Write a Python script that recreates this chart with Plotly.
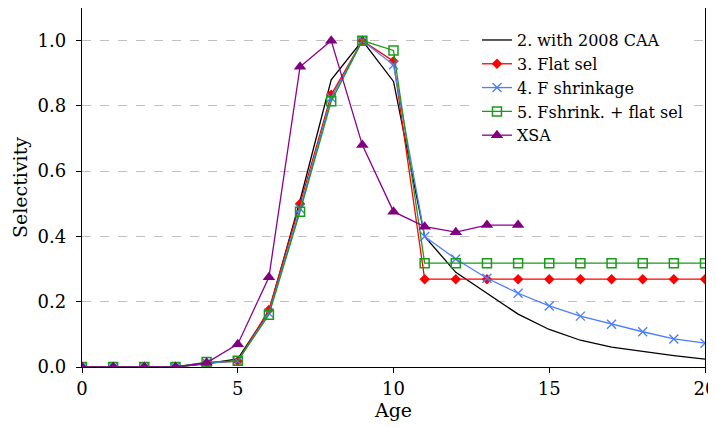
import plotly.graph_objects as go

ages = list(range(0, 21))
ages_xsa = list(range(0, 15))

s2_caa = [0, 0, 0, 0, 0.01, 0.025, 0.17, 0.51, 0.88, 1.0, 0.875, 0.40,
          0.29, 0.225, 0.162, 0.115, 0.082, 0.061, 0.047, 0.035, 0.024]
s3_flat = [0, 0, 0, 0, 0.012, 0.018, 0.175, 0.50, 0.834, 1.0, 0.937, 0.269,
           0.269, 0.269, 0.269, 0.269, 0.269, 0.269, 0.269, 0.269, 0.269]
s4_fshr = [0, 0, 0, 0, 0.012, 0.018, 0.165, 0.485, 0.825, 1.0, 0.926, 0.40,
           0.331, 0.272, 0.226, 0.187, 0.156, 0.131, 0.108, 0.086, 0.073]
s5_fshr_flat = [0, 0, 0, 0, 0.015, 0.019, 0.16, 0.476, 0.814, 1.0, 0.97, 0.318,
                0.318, 0.318, 0.318, 0.318, 0.318, 0.318, 0.318, 0.318, 0.318]
xsa = [0, 0, 0, 0, 0.013, 0.07, 0.275, 0.92, 1.0, 0.68, 0.476, 0.43,
       0.413, 0.435, 0.435]

names = ["2. with 2008 CAA", "3. Flat sel", "4. F shrinkage",
         "5. Fshrink. + flat sel", "XSA"]
x_ticks = [0, 5, 10, 15, 20]
y_ticks = [0.0, 0.2, 0.4, 0.6, 0.8, 1.0]

FONT = "DejaVu Serif"

fig = go.Figure()
fig.add_trace(go.Scatter(x=ages, y=s2_caa, name=names[0], mode="lines",
                         line=dict(color="black", width=1.3)))
fig.add_trace(go.Scatter(x=ages, y=s3_flat, name=names[1], mode="lines+markers",
                         line=dict(color="#ff0000", width=1.3),
                         marker=dict(symbol="diamond", size=8, color="#ff0000")))
fig.add_trace(go.Scatter(x=ages, y=s4_fshr, name=names[2], mode="lines+markers",
                         line=dict(color="#4a7dff", width=1.3),
                         marker=dict(symbol="x-thin", size=9,
                                     line=dict(color="#4a7dff", width=1.3))))
fig.add_trace(go.Scatter(x=ages, y=s5_fshr_flat, name=names[3], mode="lines+markers",
                         line=dict(color="#1a9a1a", width=1.3),
                         marker=dict(symbol="square-open", size=9,
                                     line=dict(color="#1a9a1a", width=1.5))))
fig.add_trace(go.Scatter(x=ages_xsa, y=xsa, name=names[4], mode="lines+markers",
                         line=dict(color="#8b008b", width=1.3),
                         marker=dict(symbol="triangle-up", size=11, color="#800080")))

fig.update_layout(
    width=708, height=420,
    margin=dict(l=74, r=11, t=0, b=61, autoexpand=False),
    paper_bgcolor="white", plot_bgcolor="white",
    font=dict(family=FONT, size=18, color="black"),
    showlegend=True,
    legend=dict(x=0.634, y=0.958, xanchor="left", yanchor="top",
                bgcolor="white", borderwidth=0,
                font=dict(family=FONT, size=16, color="black"),
                tracegroupgap=0, itemwidth=30),
    xaxis=dict(range=[0, 20], tickvals=x_ticks, ticks="outside", ticklen=5,
               tickcolor="black", showline=True, linecolor="black", linewidth=1.3,
               mirror=True, showgrid=False, zeroline=False, automargin=False,
               ticklabeloverflow="allow",
               title=dict(text="Age", font=dict(family=FONT, size=19), standoff=2),
               tickfont=dict(family=FONT, size=18)),
    yaxis=dict(range=[0, 1.1], tickvals=y_ticks, tickformat=".1f",
               ticks="outside", ticklen=5, tickcolor="black", ticklabelstandoff=6,
               showline=True, linecolor="black", linewidth=1.3, mirror=True,
               showgrid=True, gridcolor="#c0c0c0", griddash="dash", gridwidth=1,
               zeroline=False, automargin=False,
               title=dict(text="Selectivity", font=dict(family=FONT, size=19), standoff=4),
               tickfont=dict(family=FONT, size=18)),
)

fig.write_html("out.html")
